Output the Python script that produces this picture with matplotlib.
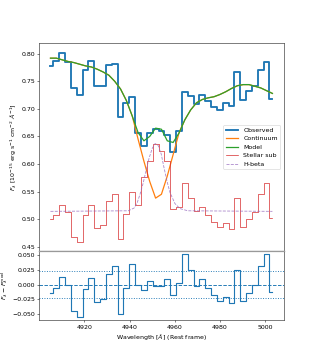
import numpy as np
import matplotlib
matplotlib.use("Agg")
import matplotlib.pyplot as plt

# wavelength bins (rest frame)
wave = np.linspace(4905.0, 5003.2, 39)

observed = [0.778, 0.786, 0.802, 0.785, 0.738, 0.725, 0.771, 0.787, 0.742, 0.742,
            0.780, 0.782, 0.686, 0.710, 0.722, 0.656, 0.632, 0.656, 0.663, 0.660,
            0.652, 0.621, 0.659, 0.731, 0.723, 0.708, 0.725, 0.714, 0.704, 0.698,
            0.710, 0.705, 0.767, 0.716, 0.732, 0.741, 0.770, 0.785, 0.717]

model = [0.792, 0.792, 0.789, 0.786, 0.784, 0.781, 0.778, 0.776, 0.772, 0.767,
         0.761, 0.750, 0.736, 0.715, 0.687, 0.657, 0.642, 0.650, 0.665, 0.663,
         0.642, 0.639, 0.656, 0.680, 0.698, 0.711, 0.717, 0.720, 0.722, 0.726,
         0.731, 0.737, 0.742, 0.744, 0.744, 0.741, 0.738, 0.733, 0.728]

continuum = [0.792, 0.792, 0.789, 0.786, 0.784, 0.781, 0.778, 0.776, 0.772, 0.767,
             0.761, 0.750, 0.736, 0.715, 0.687, 0.645, 0.605, 0.568, 0.538, 0.545,
             0.578, 0.617, 0.656, 0.680, 0.698, 0.711, 0.717, 0.720, 0.722, 0.726,
             0.731, 0.737, 0.742, 0.744, 0.744, 0.741, 0.738, 0.733, 0.728]

stellar_sub = [0.500, 0.508, 0.526, 0.513, 0.468, 0.459, 0.508, 0.525, 0.484, 0.490,
               0.532, 0.545, 0.464, 0.509, 0.550, 0.526, 0.576, 0.606, 0.637, 0.624,
               0.606, 0.518, 0.522, 0.565, 0.539, 0.514, 0.522, 0.507, 0.495, 0.485,
               0.492, 0.482, 0.538, 0.486, 0.500, 0.513, 0.545, 0.565, 0.502]

# H-beta line profile
hb_wave = [4905.0, 4939.4, 4942.0, 4943.4, 4944.7, 4946.0, 4947.3, 4948.6, 4950.0,
           4951.3, 4952.6, 4954.0, 4955.2, 4956.6, 4957.9, 4960.1, 4962.3, 4965.8, 5003.2]
hb_flux = [0.514, 0.515, 0.520, 0.530, 0.546, 0.565, 0.588, 0.610, 0.628,
           0.637, 0.634, 0.618, 0.594, 0.568, 0.548, 0.528, 0.519, 0.515, 0.514]

resid = [-0.014, -0.006, 0.013, -0.001, -0.046, -0.056, -0.007, 0.011, -0.030, -0.025,
         0.019, 0.032, -0.050, -0.005, 0.035, -0.001, -0.010, 0.006, -0.003, -0.003,
         0.010, -0.018, 0.003, 0.052, 0.025, -0.003, 0.009, -0.006, -0.018, -0.028,
         -0.021, -0.032, 0.025, -0.028, -0.014, 0.000, 0.032, 0.052, -0.012]
resid_std = 0.0235

fig, (ax1, ax2) = plt.subplots(2, 1, figsize=(7, 8), dpi=45, sharex=True,
                               gridspec_kw={"height_ratios": [3, 1], "hspace": 0})

ax1.plot(wave, observed, drawstyle="steps-mid", color="C0", lw=3, label="Observed")
ax1.plot(wave, continuum, color="C1", lw=2, label="Continuum")
ax1.plot(wave, model, color="C2", lw=2, label="Model")
ax1.plot(wave, stellar_sub, drawstyle="steps-mid", color="C3", lw=1.1, label="Stellar sub")
ax1.plot(hb_wave, hb_flux, color="C4", lw=1.3, ls="--", alpha=0.8, label="H-beta")
ax1.set_ylabel(r"$F_\lambda$ [$10^{-15}$ erg s$^{-1}$ cm$^{-2}$ $\AA^{-1}$]")
ax1.legend(loc="center right")

ax2.plot(wave, resid, drawstyle="steps-mid", color="C0", lw=1.8)
ax2.axhline(0, color="C0", ls="--", lw=1.5)
ax2.axhline(resid_std, color="C0", ls=":", lw=1.5)
ax2.axhline(-resid_std, color="C0", ls=":", lw=1.5)
ax2.set_ylabel(r"$F_\lambda - F_\lambda^{\rm mod}$")
ax2.set_xlabel(r"Wavelength [$\AA$] (Rest frame)")

# grey band where the two panels meet
ax1.spines["bottom"].set_color("0.6")
ax1.spines["bottom"].set_linewidth(2)
ax2.spines["top"].set_color("0.6")
ax2.spines["top"].set_linewidth(2)

fig.savefig("out.png", dpi=45)
